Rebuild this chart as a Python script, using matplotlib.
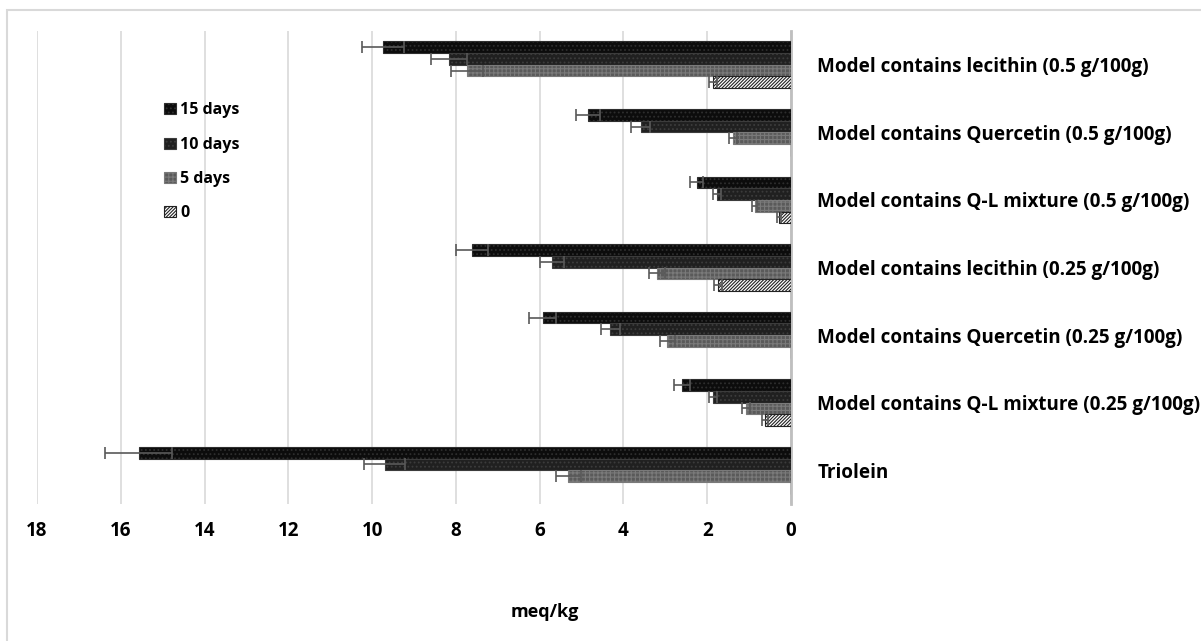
import numpy as np
import matplotlib
matplotlib.use("Agg")
import matplotlib.pyplot as plt
from matplotlib.patches import Patch, Rectangle

plt.rcParams['font.family'] = ['Open Sans', 'DejaVu Sans']
plt.rcParams['font.weight'] = 'bold'
plt.rcParams['hatch.linewidth'] = 0.8

categories = ["Model contains lecithin (0.5 g/100g)",
              "Model contains Quercetin (0.5 g/100g)",
              "Model contains Q-L mixture (0.5 g/100g)",
              "Model contains lecithin (0.25 g/100g)",
              "Model contains Quercetin (0.25 g/100g)",
              "Model contains Q-L mixture (0.25 g/100g)",
              "Triolein"]

series_names = ["15 days", "10 days", "5 days", "0"]

days15 = [9.74, 4.85, 2.25, 7.61, 5.93, 2.60, 15.57]
days10 = [8.16, 3.59, 1.77, 5.70, 4.31, 1.86, 9.70]
days5 = [7.73, 1.38, 0.86, 3.20, 2.95, 1.07, 5.32]
days0 = [1.86, 0, 0.29, 1.75, 0, 0.62, 0]

err15 = [0.50, 0.28, 0.16, 0.38, 0.33, 0.19, 0.80]
err10 = [0.43, 0.23, 0.09, 0.29, 0.22, 0.10, 0.49]
err5 = [0.38, 0.10, 0.06, 0.19, 0.18, 0.10, 0.30]
err0 = [0.10, 0, 0.05, 0.10, 0, 0.07, 0]

values = [days15, days10, days5, days0]
errors = [err15, err10, err5, err0]

faces = ["#0c0c0c", "#202020", "#5a5a5a", "white"]
hatches = ["....", "....", "++++", "//////////"]
hatch_cols = ["#2e2e2e", "#3c3c3c", "#7a7a7a", "#222222"]

fig = plt.figure(figsize=(12.01, 6.41), dpi=100)
fig.patches.append(Rectangle((7 / 1201, -0.1), 1.2, 1.1 - 10 / 641,
                             transform=fig.transFigure, fill=False,
                             edgecolor="#d9d9d9", linewidth=1.5))
ax = fig.add_axes([37 / 1201, 1 - 504 / 641, (791 - 37) / 1201, (504 - 31) / 641])

y = np.arange(len(categories))
h = 0.1725
for j in range(4):
    pos = y + (j - 1.5) * h
    ax.barh(pos, values[j], height=h, color=faces[j], hatch=hatches[j],
            edgecolor=hatch_cols[j], linewidth=0.8, zorder=3)
    v = np.array(values[j], dtype=float)
    e = np.array(errors[j], dtype=float)
    m = v > 0
    ax.errorbar(v[m], pos[m], xerr=e[m], fmt="none", ecolor="#595959",
                elinewidth=1.2, capsize=4, capthick=1.2, zorder=4)

ax.set_xlim(18, 0)
ax.set_ylim(len(categories) - 0.5, -0.5)
ax.set_xticks(np.arange(0, 19, 2))
ax.grid(axis="x", color="#d9d9d9", linewidth=1.2, zorder=0)
ax.set_axisbelow(True)
for s in ["top", "bottom", "left"]:
    ax.spines[s].set_visible(False)
ax.spines["right"].set_color("#bfbfbf")
ax.spines["right"].set_linewidth(2)

ax.yaxis.tick_right()
ax.set_yticks(y)
ax.set_yticklabels(categories, fontsize=13.6, fontweight="bold")
ax.tick_params(axis="y", length=0, pad=19)
ax.tick_params(axis="x", length=0, pad=12, labelsize=13.5)
for t in ax.get_xticklabels():
    t.set_fontweight("bold")

fig.text(545 / 1201, 1 - 612 / 641, "meq/kg", ha="center", va="center",
         fontsize=13, fontweight="bold")

handles = [Patch(facecolor=faces[j], hatch=hatches[j], edgecolor=hatch_cols[j],
                 linewidth=0.8) for j in range(4)]
ax.legend(handles, series_names, loc="upper left",
          bbox_to_anchor=(150 / 1201, 1 - 88 / 641), bbox_transform=fig.transFigure,
          frameon=False, prop={"weight": "bold", "size": 11.5},
          handlelength=0.7, handleheight=0.7, handletextpad=0.3, labelspacing=1.15)

fig.savefig("out.png", dpi=100)
